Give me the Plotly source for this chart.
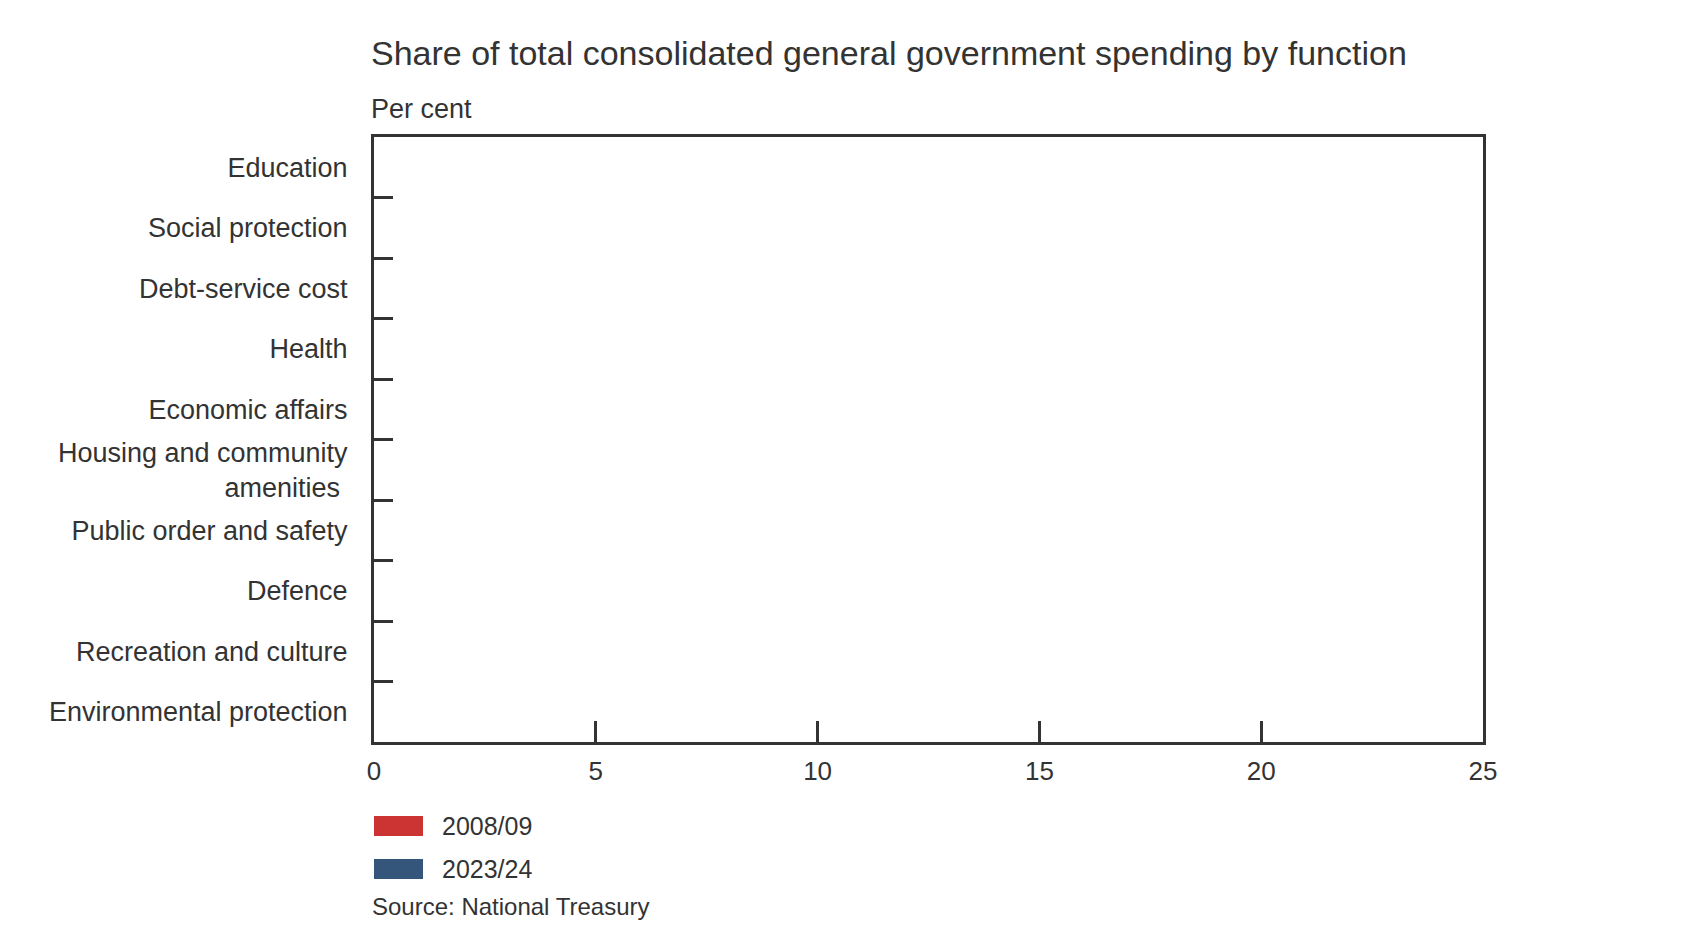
import plotly.graph_objects as go

categories = [
    "Education",
    "Social protection",
    "Debt-service cost",
    "Health",
    "Economic affairs",
    "Housing and community<br>amenities\u00a0",
    "Public order and safety",
    "Defence",
    "Recreation and culture",
    "Environmental protection",
]
series_names = ["2008/09", "2023/24"]
values_2008 = [0, 0, 0, 0, 0, 0, 0, 0, 0, 0]
values_2023 = [0, 0, 0, 0, 0, 0, 0, 0, 0, 0]
x_ticks = [0, 5, 10, 15, 20, 25]
colors = ["#CC3434", "#34567A"]

FONT = "Liberation Sans"
TXT = "#333333"

fig = go.Figure()
for name, vals, col in zip(series_names, [values_2008, values_2023], colors):
    fig.add_trace(go.Bar(
        y=categories, x=vals, name=name, orientation="h",
        marker=dict(color=col, line=dict(width=0)), showlegend=False,
    ))

W, H = 1685, 947
L, R, T, B = 366, 1475, 129, 734
pw, ph = R - L, B - T

def px(x):
    return (x - L) / pw

def py(y):
    return (B - y) / ph

fig.update_layout(
    width=W, height=H,
    margin=dict(l=L, r=W - R, t=T, b=H - B, pad=0),
    paper_bgcolor="white", plot_bgcolor="white",
    barmode="group",
    font=dict(family=FONT, color=TXT, size=27),
    xaxis=dict(
        range=[0, 25], tickmode="array", tickvals=x_ticks,
        ticktext=[str(v) for v in x_ticks],
        ticks="inside", ticklen=21, tickwidth=3, tickcolor=TXT,
        showline=True, linewidth=3, linecolor=TXT, mirror=True,
        showgrid=False, zeroline=False, ticklabelstandoff=4,
        tickfont=dict(size=26, family=FONT, color=TXT),
    ),
    yaxis=dict(
        categoryorder="array", categoryarray=categories,
        autorange="reversed", tickson="boundaries",
        ticks="inside", ticklen=19, tickwidth=3, tickcolor=TXT,
        showline=True, linewidth=3, linecolor=TXT, mirror=True,
        showgrid=False, zeroline=False, ticklabelstandoff=18,
        tickfont=dict(size=27, family=FONT, color=TXT),
    ),
)

annotations = [
    dict(text="Share of total consolidated general government spending by function",
         x=px(361), y=py(45), font=dict(size=34, family=FONT, color=TXT)),
    dict(text="Per cent", x=px(361), y=py(101), font=dict(size=27, family=FONT, color=TXT)),
    dict(text="Source: National Treasury", x=px(362), y=py(898),
         font=dict(size=24, family=FONT, color=TXT)),
]
leg_y = [818, 861]
for name, col, yc in zip(series_names, colors, leg_y):
    fig.add_shape(type="rect", xref="paper", yref="paper",
                  x0=px(366), x1=px(415), y0=py(yc - 10), y1=py(yc + 10),
                  fillcolor=col, line=dict(width=0))
    annotations.append(dict(text=name, x=px(432), y=py(yc),
                            font=dict(size=25, family=FONT, color=TXT)))
for a in annotations:
    a.update(xref="paper", yref="paper", xanchor="left", yanchor="middle", showarrow=False)
fig.update_layout(annotations=annotations)

fig.write_html("out.html")
